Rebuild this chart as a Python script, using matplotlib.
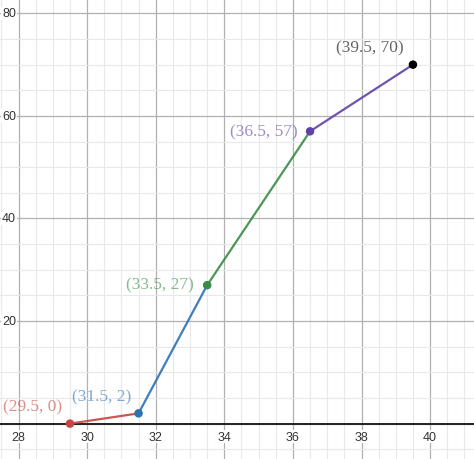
import matplotlib
matplotlib.use("Agg")
import matplotlib.pyplot as plt
from matplotlib.ticker import MultipleLocator

# points of the piecewise line (Desmos-style)
xs = [29.5, 31.5, 33.5, 36.5, 39.5]
ys = [0, 2, 27, 57, 70]
point_colors = ["#c74440", "#2d70b3", "#388c46", "#6042a6", "#000000"]
seg_colors = ["#c74440", "#2d70b3", "#388c46", "#6042a6"]
x_ticks = [28, 30, 32, 34, 36, 38, 40]
y_ticks = [20, 40, 60, 80]

XMIN, XMAX = 27.46, 41.28
YMIN, YMAX = -6.9, 82.8

fig = plt.figure(figsize=(4.74, 4.60), dpi=100)
ax = fig.add_axes([0, 0, 1, 1])
ax.set_xlim(XMIN, XMAX)
ax.set_ylim(YMIN, YMAX)

ax.xaxis.set_major_locator(MultipleLocator(2))
ax.xaxis.set_minor_locator(MultipleLocator(0.5))
ax.yaxis.set_major_locator(MultipleLocator(20))
ax.yaxis.set_minor_locator(MultipleLocator(5))
ax.grid(which="major", color="#b0b0b0", lw=0.9)
ax.grid(which="minor", color="#e8e8e8", lw=0.8)
ax.set_axisbelow(True)
ax.tick_params(which="both", length=0, labelbottom=False, labelleft=False)
for sp in ax.spines.values():
    sp.set_visible(False)

ax.axhline(0, color="#222222", lw=1.4, zorder=2)

box = dict(facecolor="white", edgecolor="none", pad=0.5)
for t in x_ticks:
    ax.annotate(str(t), (t, 0), xytext=(0, -13), textcoords="offset pixels",
                ha="center", va="center", fontsize=9, color="#333333",
                family="Liberation Sans", bbox=box, zorder=3)
for t in y_ticks:
    ax.annotate(str(t), (XMIN, t), xytext=(9, 0), textcoords="offset pixels",
                ha="center", va="center", fontsize=9, color="#333333",
                family="Liberation Sans", bbox=box, zorder=3)

for i, c in enumerate(seg_colors):
    ax.plot(xs[i:i + 2], ys[i:i + 2], color=c, lw=1.6, alpha=0.9, zorder=4)
ax.scatter(xs, ys, c=point_colors, s=26, zorder=5)

offsets = [(-37, 17), (-37, 17), (-47, 1), (-46, 0), (-43, 17)]
for x, y, c, off in zip(xs, ys, point_colors, offsets):
    lbl = f"({x:g}, {y:g})"
    ax.annotate(lbl, (x, y), xytext=off, textcoords="offset pixels",
                ha="center", va="center", fontsize=12.5, color=c, alpha=0.6,
                family="Liberation Serif", zorder=6)

fig.savefig("out.png", dpi=100)
